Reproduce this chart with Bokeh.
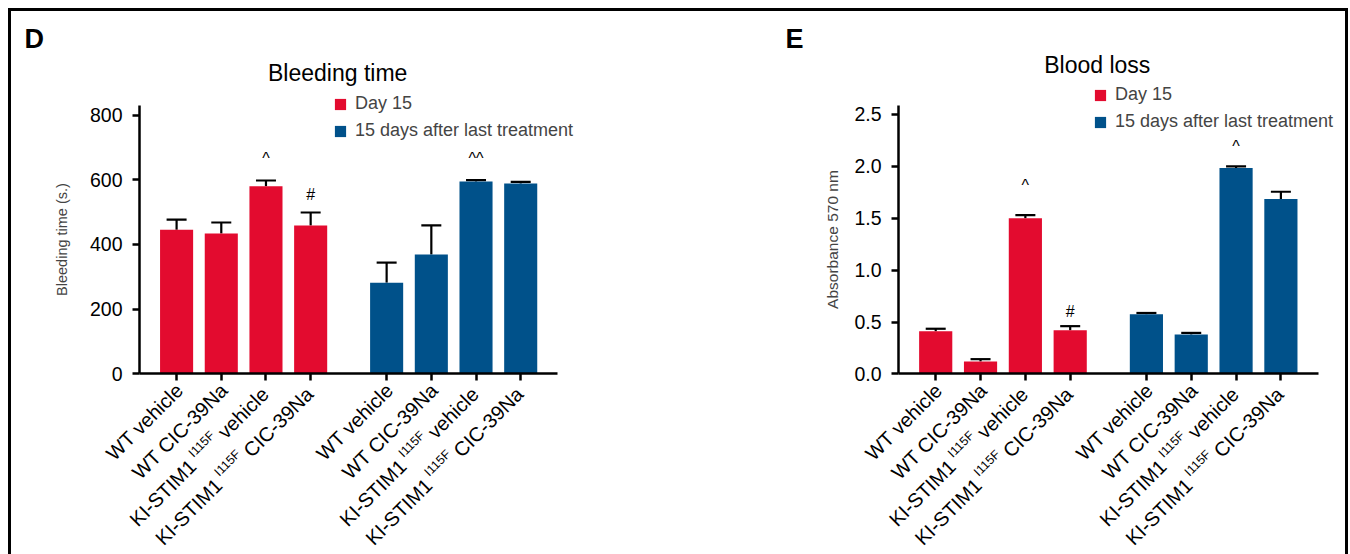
import math
from bokeh.plotting import figure
from bokeh.models import (Range1d, FixedTicker, NumeralTickFormatter, Whisker, TeeHead,
                          ColumnDataSource, Label, Legend, LegendItem)
from bokeh.layouts import row
from bokeh.embed import file_html
from bokeh.resources import INLINE

# ---------------- data ----------------
groups = ["Day 15", "15 days after last treatment"]
# (text, superscript, text after superscript)
categories = [("WT vehicle", "", ""), ("WT CIC-39Na", "", ""),
              ("KI-STIM1", "I115F", " vehicle"), ("KI-STIM1", "I115F", " CIC-39Na")]

bleed_day15 = [446, 434, 580, 459]
bleed_day15_err = [31, 34, 18, 40]
bleed_after = [282, 369, 595, 589]
bleed_after_err = [62, 90, 4, 5]
bleed_ticks = [0, 200, 400, 600, 800]
bleed_marks = [(0, 2, "^"), (0, 3, "#"), (1, 2, "^^")]

loss_day15 = [0.41, 0.12, 1.50, 0.42]
loss_day15_err = [0.025, 0.022, 0.03, 0.04]
loss_after = [0.575, 0.38, 1.985, 1.685]
loss_after_err = [0.012, 0.015, 0.014, 0.07]
loss_ticks = [0.0, 0.5, 1.0, 1.5, 2.0, 2.5]
loss_marks = [(0, 2, "^"), (0, 3, "#"), (1, 2, "^")]

# ---------------- style ----------------
FONT = "Liberation Sans"
COLORS = ["#E30B2F", "#00518A"]
GAP = 0.7
PAD = 0.83
BAR_W = 0.74
H = 543
C45 = math.cos(math.pi / 4)

# Arial / Liberation Sans advance widths (per 1000 em)
CW = {' ': 278, 'C': 722, 'F': 611, 'I': 278, 'K': 667, 'M': 833, 'N': 722, 'S': 667,
      'T': 611, 'W': 944, 'a': 556, 'c': 500, 'e': 556, 'h': 556, 'i': 222, 'l': 222,
      'v': 500, '-': 333}
for d in "0123456789":
    CW[d] = 556


def tw(s, size):
    return sum(CW.get(ch, 556) for ch in s) * size / 1000.0


def make_panel(letter, title, ylabel, ylabel_size, day15, day15_err, after, after_err,
               ticks, ytop, marks, mark_offsets, fmt, width,
               px_left, px_right, px_zero, px_top, title_dy, letter_dx,
               label_standoff, legend_loc):
    """px_left/px_right: canvas pixels of the axis box; px_zero/px_top: canvas pixels
    (from the canvas top) of y=0 and y=ytop."""
    n = len(categories)
    xs = [[g * (n + GAP) + i for i in range(n)] for g in range(len(groups))]
    x_lo, x_hi = -PAD, xs[-1][-1] + PAD
    kx = (px_right - px_left) / (x_hi - x_lo)
    ky = (px_zero - px_top) / ytop
    x_range = Range1d(x_lo - px_left / kx, x_lo + (width - px_left) / kx)
    y_range = Range1d(-(H - px_zero) / ky, px_zero / ky)

    p = figure(width=width, height=H, x_range=x_range, y_range=y_range, min_border=0,
               toolbar_location=None, output_backend="svg", outline_line_color=None)
    p.xgrid.visible = False
    p.ygrid.visible = False

    vals = [day15, after]
    errs = [day15_err, after_err]
    rends = []
    for g in range(len(groups)):
        src = ColumnDataSource(dict(x=xs[g], top=vals[g],
                                    upper=[v + e for v, e in zip(vals[g], errs[g])]))
        r = p.vbar(x="x", top="top", width=BAR_W, bottom=0, source=src,
                   fill_color=COLORS[g], line_color=None)
        rends.append(r)
        w = Whisker(base="x", lower="top", upper="upper", source=src, dimension="height",
                    upper_head=TeeHead(size=20, line_width=2.2, line_color="black"),
                    lower_head=None, line_width=2.2, line_color="black")
        p.add_layout(w)

    # axes (drawn inside the frame at fixed data locations)
    ya = p.yaxis[0]
    ya.fixed_location = x_lo
    ya.bounds = (0, ytop)
    ya.ticker = FixedTicker(ticks=ticks)
    if fmt:
        ya.formatter = NumeralTickFormatter(format=fmt)
    ya.minor_tick_line_color = None
    ya.major_tick_out = 7
    ya.major_tick_in = 0
    ya.axis_line_width = 2.5
    ya.major_tick_line_width = 2.5
    ya.major_label_text_font = FONT
    ya.major_label_text_font_size = "19.5px"
    ya.major_label_text_color = "black"
    ya.major_label_standoff = 10
    ya.axis_label = ylabel
    ya.axis_label_text_font = FONT
    ya.axis_label_text_font_style = "normal"
    ya.axis_label_text_font_size = ylabel_size
    ya.axis_label_standoff = label_standoff

    xa = p.xaxis[0]
    xa.fixed_location = 0
    xa.bounds = (x_lo, x_hi)
    xa.ticker = FixedTicker(ticks=[x for gx in xs for x in gx])
    xa.minor_tick_line_color = None
    xa.major_tick_out = 7
    xa.major_tick_in = 0
    xa.axis_line_width = 2.5
    xa.major_tick_line_width = 2.5
    xa.major_label_text_color = None

    # rotated category labels with superscripts
    ax, ay = 3, -13
    main_size, sup_size, sup_raise, sup_gap, post_gap = 20, 12.5, 7, 4, 4
    for g in range(len(groups)):
        for i, (pre, sup, post) in enumerate(categories):
            segs = [(pre, main_size, 0, 0)]
            if sup:
                segs.append((sup, sup_size, sup_raise, sup_gap))
                segs.append((post, main_size, 0, post_gap))
            total = sum(tw(t, s) + gp for t, s, r, gp in segs)
            cum = 0.0
            for t, s, r, gp in segs:
                cum += gp
                d = cum - total
                p.add_layout(Label(x=xs[g][i], y=0,
                                   x_offset=ax + d * C45 - r * C45,
                                   y_offset=ay + d * C45 + r * C45,
                                   text=t, angle=math.pi / 4, text_align="left",
                                   text_baseline="alphabetic", text_font=FONT,
                                   text_font_size=f"{s}px", text_color="black"))
                cum += tw(t, s)

    # significance marks
    for (g, i, t), off in zip(marks, mark_offsets):
        top = vals[g][i] + errs[g][i]
        p.add_layout(Label(x=xs[g][i], y=top, y_offset=off, text=t, text_align="center",
                           text_baseline="alphabetic", text_font=FONT,
                           text_font_size="16px", text_color="black"))

    # title and panel letter
    p.add_layout(Label(x=(x_lo + x_hi) / 2, y=ytop, x_offset=-11, y_offset=title_dy,
                       text=title, text_align="center", text_baseline="alphabetic",
                       text_font=FONT, text_font_size="23px", text_color="black"))
    p.add_layout(Label(x=x_lo, y=ytop, x_offset=letter_dx, y_offset=67, text=letter,
                       text_align="left", text_baseline="alphabetic", text_font=FONT,
                       text_font_style="bold", text_font_size="27px", text_color="black"))

    legend = Legend(items=[LegendItem(label=groups[g], renderers=[rends[g]])
                           for g in range(len(groups))],
                    location=legend_loc, glyph_width=14, glyph_height=14,
                    label_text_font=FONT, label_text_font_size="18px",
                    label_standoff=8, spacing=6, padding=0, margin=0,
                    border_line_color=None, background_fill_alpha=0)
    p.add_layout(legend)
    return p


# panel D canvas starts at page x=11, panel E at page x=690; both at page y=11
p1 = make_panel("D", "Bleeding time", "Bleeding time (s.)", "14.5px",
                bleed_day15, bleed_day15_err, bleed_after, bleed_after_err,
                bleed_ticks, 830, bleed_marks, [22, 18, 22], None,
                679, 128, 546.3, 362.3, 94, 33, -115, 17, (322, 413))
p2 = make_panel("E", "Blood loss", "Absorbance 570 nm", "15.5px",
                loss_day15, loss_day15_err, loss_after, loss_after_err,
                loss_ticks, 2.586, loss_marks, [30, 15, 20], "0.0",
                655, 208, 627.6, 362.4, 94, 41, -113, 10, (403, 422))

layout = row(p1, p2, styles={"margin-left": "8px", "margin-top": "8px",
                             "border-top": "3px solid black",
                             "border-left": "3px solid black",
                             "border-right": "3px solid black"})

open("out.html", "w").write(file_html(layout, INLINE))
